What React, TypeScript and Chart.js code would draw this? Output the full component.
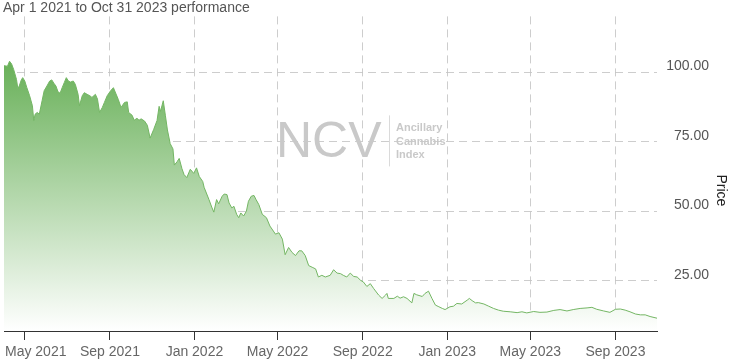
import React, { useEffect, useRef } from 'react';
import { Chart, registerables } from 'chart.js';

Chart.register(...registerables);

const titleText = 'Apr 1 2021 to Oct 31 2023 performance';
const axisTitle = 'Price';
const watermarkMain = 'NCV';
const watermarkLines = ['Ancillary', 'Cannabis', 'Index'];

// x values: days since Apr 1 2021
const tickDays = [30, 153, 275, 395, 518, 640, 760, 883];
const tickLabels = ['May 2021', 'Sep 2021', 'Jan 2022', 'May 2022', 'Sep 2022', 'Jan 2023', 'May 2023', 'Sep 2023'];
const priceTicks = [25, 50, 75, 100];
const xMin = 0;
const xMax = 943;
const yMin = 7;
const yMax = 120;

const days = [
  0, 5, 8, 11, 14, 18, 20, 22, 25, 27, 30, 33, 37, 41, 43, 45, 48, 51, 55, 58,
  62, 66, 69, 72, 75, 78, 81, 84, 87, 90, 93, 96, 100, 103, 107, 109, 113, 116, 120, 124,
  127, 132, 135, 138, 142, 145, 149, 154, 158, 165, 169, 174, 178, 180, 185, 188, 192, 195, 198, 203,
  207, 211, 216, 221, 224, 226, 230, 233, 236, 240, 244, 246, 250, 253, 257, 260, 264, 269, 274, 278,
  282, 287, 289, 296, 300, 303, 307, 310, 315, 318, 322, 325, 329, 332, 336, 339, 342, 346, 350, 353,
  357, 361, 364, 368, 373, 379, 384, 389, 392, 397, 402, 406, 411, 416, 421, 426, 430, 435, 440, 445,
  450, 454, 459, 464, 471, 476, 481, 486, 490, 495, 500, 505, 510, 515, 519, 524, 529, 534, 541, 546,
  551, 553, 555, 563, 568, 572, 577, 582, 589, 592, 596, 604, 608, 613, 618, 623, 628, 633, 637, 644,
  649, 654, 661, 669, 672, 676, 681, 685, 693, 700, 707, 714, 721, 731, 741, 748, 755, 765, 774, 784,
  794, 803, 813, 822, 832, 842, 849, 856, 866, 875, 883, 890, 897, 904, 912, 919, 926, 933, 943,
];

const prices = [
  102.3, 102.1, 103.9, 102.9, 100.9, 97.4, 94.1, 95.0, 97.2, 98.0, 96.8, 94.4, 91.5, 87.9, 82.6, 84.9, 85.5, 84.9, 89.7, 93.3,
  95.0, 96.8, 97.2, 96.0, 95.0, 92.9, 92.4, 94.4, 96.2, 98.0, 96.8, 96.4, 96.8, 95.6, 92.0, 87.9, 91.5, 92.6, 92.0, 91.5,
  90.9, 92.0, 90.3, 85.5, 87.3, 89.1, 91.5, 93.3, 94.4, 90.2, 87.3, 89.1, 89.3, 85.5, 84.5, 82.7, 83.4, 82.7, 83.2, 82.4,
  80.9, 76.3, 79.3, 82.6, 87.7, 85.9, 89.7, 84.5, 79.2, 74.3, 72.4, 66.6, 67.8, 69.0, 65.3, 63.2, 62.1, 65.1, 63.6, 65.6,
  62.5, 60.7, 58.6, 54.2, 51.5, 49.7, 54.2, 52.7, 55.4, 56.2, 56.0, 53.0, 51.2, 51.8, 48.9, 47.7, 49.4, 48.3, 50.0, 53.6,
  55.4, 55.7, 54.2, 52.4, 48.9, 47.7, 44.7, 42.9, 41.8, 42.3, 40.0, 34.4, 37.0, 35.2, 34.1, 35.8, 35.8, 34.1, 30.5, 29.9,
  29.3, 26.4, 27.0, 26.4, 27.0, 29.0, 27.8, 27.6, 27.0, 26.4, 27.8, 26.6, 26.4, 25.2, 24.6, 23.0, 24.0, 22.2, 19.9, 18.7,
  19.9, 20.5, 18.7, 18.7, 19.5, 18.8, 19.3, 18.7, 17.1, 20.5, 20.0, 19.4, 20.5, 21.3, 18.7, 16.3, 15.7, 15.1, 14.7, 15.7,
  15.9, 16.9, 16.7, 18.1, 18.7, 17.9, 17.1, 17.2, 16.7, 15.9, 15.1, 14.5, 14.1, 13.9, 13.6, 13.9, 13.5, 14.0, 13.7, 13.8,
  14.4, 14.7, 14.2, 14.7, 15.1, 15.3, 15.5, 14.8, 14.2, 13.7, 14.8, 14.9, 14.5, 13.9, 13.1, 12.8, 12.8, 12.2, 11.6,
];

const FONT = '"Liberation Sans", Arial, Helvetica, sans-serif';

const overlayPlugin = {
  id: 'overlay',
  beforeDatasetsDraw(chart: any) {
    const { ctx, chartArea } = chart;
    const ox = chartArea.left;
    const oy = chartArea.top;
    ctx.save();
    ctx.fillStyle = '#c9c9c9';
    ctx.font = `50px ${FONT}`;
    ctx.textBaseline = 'alphabetic';
    ctx.textAlign = 'left';
    ctx.fillText(watermarkMain, ox + 272, oy + 141);
    ctx.strokeStyle = '#dadada';
    ctx.lineWidth = 1;
    ctx.beginPath();
    ctx.moveTo(ox + 385.5, oy + 99);
    ctx.lineTo(ox + 385.5, oy + 150);
    ctx.stroke();
    ctx.font = `bold 11px ${FONT}`;
    ctx.fillStyle = '#c9c9c9';
    watermarkLines.forEach((t, i) => {
      ctx.fillText(t, ox + 392, oy + 115 + i * 13.2);
    });
    ctx.restore();
  },
  afterDraw(chart: any) {
    const { ctx, chartArea, scales } = chart;
    ctx.save();
    // title
    ctx.font = `14px ${FONT}`;
    ctx.fillStyle = '#555';
    ctx.textAlign = 'left';
    ctx.textBaseline = 'alphabetic';
    ctx.fillText(titleText, 3, 12);
    // x labels
    ctx.fillStyle = '#666';
    ctx.font = `14px ${FONT}`;
    tickDays.forEach((d, i) => {
      const px = scales.x.getPixelForValue(d);
      const label = tickLabels[i];
      const w = ctx.measureText(label).width;
      let left = px - w / 2;
      if (left < chartArea.left + 1) left = chartArea.left + 1;
      if (left + w > chartArea.right) left = chartArea.right - w;
      ctx.fillText(label, left, chartArea.bottom + 25);
    });
    // axis title
    ctx.fillStyle = '#222';
    ctx.font = `14px ${FONT}`;
    ctx.translate(chartArea.right + 60, chartArea.top + 158);
    ctx.rotate(Math.PI / 2);
    ctx.fillText(axisTitle, 0, 0);
    ctx.restore();
  },
};

export default function App() {
  const canvasRef = useRef<HTMLCanvasElement | null>(null);

  useEffect(() => {
    document.body.style.margin = '0';
    const canvas = canvasRef.current;
    if (!canvas) return;
    const points = days.map((d, i) => ({ x: d, y: prices[i] }));
    const maxPrice = Math.max(...prices);
    const chart = new Chart(canvas, {
      type: 'line',
      data: {
        datasets: [
          {
            data: points,
            borderColor: '#74b664',
            borderWidth: 1,
            pointRadius: 0,
            tension: 0,
            fill: 'start',
            backgroundColor: (c: any) => {
              const ch = c.chart;
              const area = ch.chartArea;
              if (!area) return 'rgba(104,176,88,0.5)';
              const top = ch.scales.y.getPixelForValue(maxPrice);
              const g = ch.ctx.createLinearGradient(0, top, 0, area.bottom);
              g.addColorStop(0, 'rgb(104,176,88)');
              g.addColorStop(1, 'rgb(255,255,255)');
              return g;
            },
          },
        ],
      },
      options: {
        animation: false,
        responsive: false,
        devicePixelRatio: 1,
        layout: { padding: { left: 4, top: 13, right: 30, bottom: 22 } },
        plugins: {
          legend: { display: false },
          tooltip: { enabled: false },
          title: { display: false },
        },
        scales: {
          x: {
            type: 'linear',
            min: xMin,
            max: xMax,
            z: 1,
            afterBuildTicks: (scale: any) => {
              scale.ticks = tickDays.map((v) => ({ value: v }));
            },
            ticks: { display: false },
            grid: {
              color: 'rgba(196,196,196,0.85)',
              tickColor: '#333',
              tickLength: 9,
              tickBorderDash: [],
              lineWidth: 1,
            },
            border: { display: true, color: '#333', width: 1, dash: [8, 5] },
          },
          y: {
            type: 'linear',
            position: 'right',
            min: yMin,
            max: yMax,
            z: 1,
            afterBuildTicks: (scale: any) => {
              scale.ticks = priceTicks.map((v) => ({ value: v }));
            },
            afterFit: (scale: any) => {
              scale.width = 52;
            },
            ticks: {
              padding: 8,
              crossAlign: 'far',
              labelOffset: -6,
              color: '#555',
              font: { family: FONT, size: 14 },
              callback: (v: any) => Number(v).toFixed(2),
            },
            grid: { color: 'rgba(196,196,196,0.85)', drawTicks: false, lineWidth: 1 },
            border: { display: false, dash: [8, 5] },
          },
        },
      },
      plugins: [overlayPlugin],
    });
    return () => chart.destroy();
  }, []);

  return (
    <div style={{ position: 'relative', width: 739, height: 362 }}>
      <canvas ref={canvasRef} width={739} height={362} style={{ width: 739, height: 362, display: 'block' }} />
    </div>
  );
}
